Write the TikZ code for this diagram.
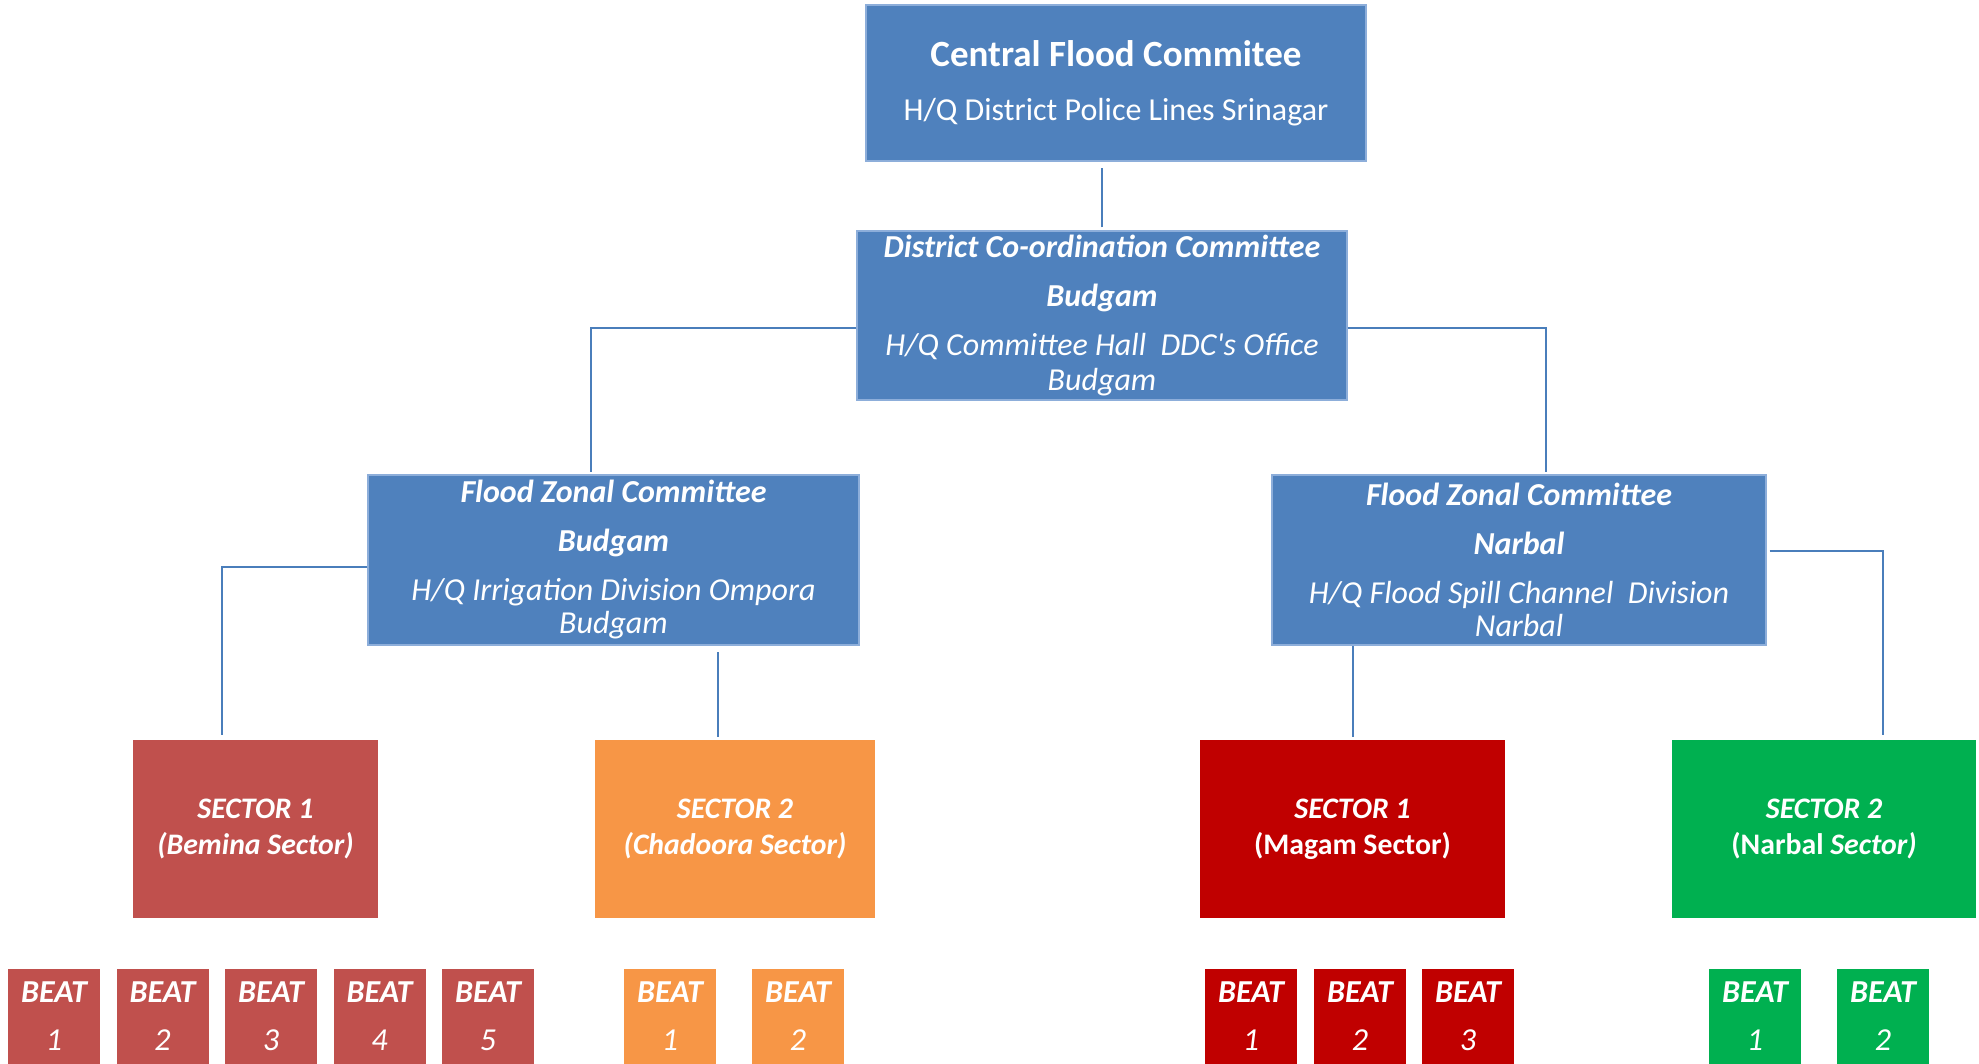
\documentclass[tikz,border=0pt]{standalone}
\usepackage{fontspec}
\setmainfont{Carlito}
\definecolor{boxblue}{HTML}{4F81BD}
\definecolor{boxedge}{HTML}{8DAEDA}
\definecolor{linkblue}{HTML}{4A7EBB}
\definecolor{secred}{HTML}{C0504D}
\definecolor{secorange}{HTML}{F79646}
\definecolor{secdark}{HTML}{C00000}
\definecolor{secgreen}{HTML}{00B050}
\tikzset{
  bluebox/.style={fill=boxblue, draw=boxedge, line width=0.6pt, inner sep=0pt, text=white, align=center},
  link/.style={draw=linkblue, line width=1pt},
  sectorbox/.style={inner sep=0pt, text=white, align=center, minimum height=89pt,
    font=\fontsize{14.9}{18}\selectfont\bfseries\itshape},
  beatbox/.style={inner sep=0pt, text=white, align=center, minimum width=46pt, minimum height=47.5pt,
    font=\fontsize{16}{24}\selectfont\itshape},
}
\begin{document}
\begin{tikzpicture}[x=0.5pt,y=-0.5pt]
\useasboundingbox (0,0) rectangle (1979,1064);
% top levels
\node[bluebox, minimum width=250pt, minimum height=78pt, font=\fontsize{18.5}{21}\selectfont] (central) at (1116,83)
  {\textbf{Central Flood Commitee}\\[6pt] {\fontsize{16}{21}\selectfont H/Q District Police Lines Srinagar}};
\node[bluebox, minimum width=245pt, minimum height=84.5pt, font=\fontsize{16}{17.5}\selectfont\itshape] (dcc) at (1102,315.5)
  {\textbf{District Co-ordination Committee}\\[7pt]\textbf{Budgam}\\[7pt]H/Q Committee Hall\ \ DDC\textquotesingle s Office\\Budgam};
\node[bluebox, minimum width=245.5pt, minimum height=85pt, font=\fontsize{16}{16.5}\selectfont\itshape] (fzcb) at (613.5,560)
  {\textbf{Flood Zonal Committee}\\[8pt]\textbf{Budgam}\\[8pt]H/Q Irrigation Division Ompora\\Budgam};
\node[bluebox, minimum width=247pt, minimum height=85pt, font=\fontsize{16}{16.5}\selectfont\itshape] (fzcn) at (1519,560)
  {\textbf{Flood Zonal Committee}\\[8pt]\textbf{Narbal}\\[8pt]H/Q Flood Spill Channel\ \ Division\\Narbal};
% sectors
\node[sectorbox, fill=secred, minimum width=122.5pt] (sb1) at (255.5,829) {SECTOR 1\\(Bemina Sector)};
\node[sectorbox, fill=secorange, minimum width=140pt] (sb2) at (735,829) {SECTOR 2\\(Chadoora Sector)};
\node[sectorbox, fill=secdark, minimum width=152.5pt] (sn1) at (1352.5,829) {SECTOR 1\\{\upshape (Magam Sector)}};
\node[sectorbox, fill=secgreen, minimum width=152pt] (sn2) at (1824,829) {SECTOR 2\\{\upshape (Narbal} Sector)};
% beats
\node[beatbox, fill=secred] (b1) at (54,1016.5) {\textbf{BEAT}\\1};
\node[beatbox, fill=secred] (b2) at (162.5,1016.5) {\textbf{BEAT}\\2};
\node[beatbox, fill=secred] (b3) at (271,1016.5) {\textbf{BEAT}\\3};
\node[beatbox, fill=secred] (b4) at (379.5,1016.5) {\textbf{BEAT}\\4};
\node[beatbox, fill=secred] (b5) at (488,1016.5) {\textbf{BEAT}\\5};
\node[beatbox, fill=secorange] (c1) at (670,1016.5) {\textbf{BEAT}\\1};
\node[beatbox, fill=secorange] (c2) at (798,1016.5) {\textbf{BEAT}\\2};
\node[beatbox, fill=secdark] (m1) at (1251,1016.5) {\textbf{BEAT}\\1};
\node[beatbox, fill=secdark] (m2) at (1360,1016.5) {\textbf{BEAT}\\2};
\node[beatbox, fill=secdark] (m3) at (1468,1016.5) {\textbf{BEAT}\\3};
\node[beatbox, fill=secgreen] (n1) at (1755,1016.5) {\textbf{BEAT}\\1};
\node[beatbox, fill=secgreen] (n2) at (1883,1016.5) {\textbf{BEAT}\\2};
% connectors
\draw[link, shorten <=1.5pt, shorten >=3pt] (dcc.north) -- (dcc.north |- central.south);
\draw[link, shorten >=1pt] ([yshift=-6.25pt]dcc.west) -| ([xshift=-11.25pt]fzcb.north);
\draw[link, shorten >=1pt] ([yshift=-6.25pt]dcc.east) -| ([xshift=13.5pt]fzcn.north);
\draw[link, shorten >=2.5pt] ([yshift=-3.5pt]fzcb.west) -| ([xshift=-16.75pt]sb1.north);
\draw[link, shorten <=1.5pt, shorten >=3pt] ([xshift=-8.5pt]sb2.north) -- ([xshift=-8.5pt]sb2.north |- fzcb.south);
\draw[link, shorten <=1.5pt] (sn1.north) -- (sn1.north |- fzcn.south);
\draw[link, shorten <=1.5pt, shorten >=2.5pt] ([yshift=4.5pt]fzcn.east) -| ([xshift=29.5pt]sn2.north);
\end{tikzpicture}
\end{document}
